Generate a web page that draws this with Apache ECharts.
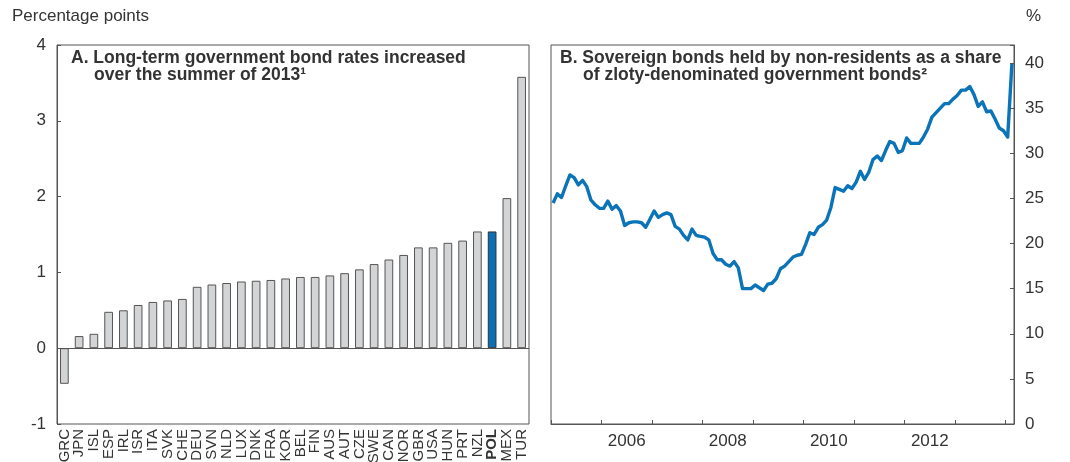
<!DOCTYPE html>
<html>
<head>
<meta charset="utf-8">
<script src="https://cdn.jsdelivr.net/npm/echarts@6/dist/echarts.min.js"></script>
<style>
  html, body { margin: 0; padding: 0; background: #ffffff; }
  #chart { width: 1070px; height: 462px; }
</style>
</head>
<body>
<div id="chart"></div>
<script>
// Panel A: change in long-term government bond rates, percentage points
const countries = ['GRC','JPN','ISL','ESP','IRL','ISR','ITA','SVK','CHE','DEU','SVN','NLD','LUX','DNK','FRA','KOR',
                   'BEL','FIN','AUS','AUT','CZE','SWE','CAN','NOR','GBR','USA','HUN','PRT','NZL','POL','MEX','TUR'];
const rateChange = [-0.47, 0.16, 0.19, 0.48, 0.50, 0.57, 0.61, 0.63, 0.65, 0.81, 0.84, 0.86, 0.88, 0.89, 0.90, 0.92,
                    0.94, 0.94, 0.96, 0.99, 1.04, 1.11, 1.17, 1.23, 1.33, 1.33, 1.39, 1.42, 1.54, 1.54, 1.98, 3.58];
const highlighted = 'POL';

// Panel B: non-resident share of zloty government bonds, %, monthly from January 2005
const shareStartYear = 2005;
const nonResidentShare = [
  24.5, 25.5, 25.1, 26.4, 27.6, 27.3, 26.5, 27.0, 26.3, 24.8, 24.3, 23.9,
  23.9, 24.7, 23.8, 24.2, 23.6, 22.0, 22.3, 22.4, 22.4, 22.3, 21.8, 22.7,
  23.6, 22.9, 23.2, 23.4, 23.2, 21.9, 21.6, 20.9, 20.4, 21.6, 20.9, 20.8,
  20.7, 20.4, 18.9, 18.2, 18.2, 17.7, 17.5, 18.0, 17.3, 15.0, 15.0, 15.0,
  15.4, 15.1, 14.8, 15.5, 15.6, 16.1, 17.2, 17.5, 18.0, 18.5, 18.7, 18.8,
  19.9, 21.2, 21.0, 21.8, 22.1, 22.6, 24.0, 26.2, 26.0, 25.8, 26.4, 26.1,
  26.8, 28.0, 27.1, 27.9, 29.3, 29.7, 29.2, 30.3, 31.3, 31.1, 30.1, 30.3,
  31.7, 31.1, 31.1, 31.1, 31.8, 32.7, 34.0, 34.5, 35.0, 35.5, 35.5, 36.0,
  36.4, 37.0, 37.0, 37.4, 36.5, 35.2, 35.7, 34.6, 34.7, 33.8, 32.8, 32.5,
  31.8, 39.9
];

const FONT = "'Liberation Sans', Arial, Helvetica, sans-serif";
const TEXT = '#333333';
const FRAME = '#555555';

// place each monthly observation mid-month on a decimal-year scale
const shareSeries = nonResidentShare.map((v, i) => [shareStartYear + (i + 0.5) / 12, v]);
const yearMin = shareStartYear;
const yearMax = shareStartYear + nonResidentShare.length / 12;

const barData = rateChange.map((v, i) => ({
  value: v,
  itemStyle: countries[i] === highlighted
    ? { color: '#0b6fb3', borderColor: '#333333', borderWidth: 1 }
    : { color: '#d3d4d5', borderColor: '#555555', borderWidth: 1 }
}));

const chart = echarts.init(document.getElementById('chart'), null, { renderer: 'canvas' });

chart.setOption({
  animation: false,
  backgroundColor: '#ffffff',
  textStyle: { fontFamily: FONT, color: TEXT },
  grid: [
    { left: 57, top: 45, width: 472, height: 379, containLabel: false, outerBoundsMode: 'none',
      show: true, borderColor: FRAME, borderWidth: 1, backgroundColor: 'transparent' },
    { left: 551, top: 45, width: 463, height: 379, containLabel: false, outerBoundsMode: 'none',
      show: true, borderColor: FRAME, borderWidth: 1, backgroundColor: 'transparent' }
  ],
  xAxis: [
    {
      type: 'category', gridIndex: 0, position: 'bottom', data: countries,
      axisLine: { show: false }, axisTick: { show: false },
      axisLabel: {
        rotate: 90, interval: 0, margin: 5, fontSize: 15, color: TEXT, fontFamily: FONT,
        formatter: name => name === highlighted ? '{b|' + name + '}' : name,
        rich: { b: { fontWeight: 'bold', fontSize: 15, color: TEXT, fontFamily: FONT } }
      }
    },
    {
      type: 'value', gridIndex: 1, position: 'bottom', min: yearMin, max: yearMax, interval: 1,
      axisLine: { show: true, lineStyle: { color: FRAME } },
      axisTick: { show: true, inside: true, length: 4, lineStyle: { color: FRAME } },
      axisLabel: { show: false }, splitLine: { show: false }
    },
    {
      type: 'value', gridIndex: 1, position: 'bottom', min: yearMin, max: yearMax, interval: 0.5,
      axisLine: { show: false }, axisTick: { show: false }, splitLine: { show: false },
      axisLabel: {
        fontSize: 17, color: TEXT, fontFamily: FONT, margin: 9,
        formatter: v => {
          const y = Math.floor(v + 1e-9);
          return (Math.abs(v - y - 0.5) < 1e-6 && y % 2 === 0) ? String(y) : '';
        }
      }
    }
  ],
  yAxis: [
    {
      type: 'value', gridIndex: 0, min: -1, max: 4, interval: 1,
      axisLine: { show: true, lineStyle: { color: FRAME } },
      axisTick: { show: true, inside: true, length: 4, lineStyle: { color: FRAME } },
      axisLabel: { fontSize: 17, color: TEXT, fontFamily: FONT, margin: 11 },
      splitLine: { show: false }
    },
    {
      type: 'value', gridIndex: 1, position: 'right', min: 0, max: 42, interval: 5,
      axisLine: { show: true, lineStyle: { color: FRAME } },
      axisTick: { show: true, inside: true, length: 4, lineStyle: { color: FRAME } },
      axisLabel: {
        fontSize: 17, color: TEXT, fontFamily: FONT, margin: 11,
        formatter: v => (v % 5 === 0 ? String(v) : '')
      },
      splitLine: { show: false }
    }
  ],
  series: [
    {
      type: 'bar', xAxisIndex: 0, yAxisIndex: 0, data: barData, barWidth: '59%',
      markLine: {
        silent: true, symbol: 'none', label: { show: false },
        lineStyle: { color: FRAME, width: 1, type: 'solid' },
        data: [{ yAxis: 0 }]
      }
    },
    {
      type: 'line', xAxisIndex: 1, yAxisIndex: 1, data: shareSeries,
      showSymbol: false, symbol: 'none',
      lineStyle: { color: '#0b74b8', width: 3.4, join: 'round' }
    }
  ],
  graphic: [
    { type: 'text', left: 12, top: 8, style: { text: 'Percentage points', font: '17px ' + FONT, fill: TEXT } },
    { type: 'text', left: 1026, top: 8, style: { text: '%', font: '17px ' + FONT, fill: TEXT } },
    { type: 'text', left: 71, top: 49, style: { text: 'A. Long-term government bond rates increased', font: 'bold 17.5px ' + FONT, fill: TEXT } },
    { type: 'text', left: 94, top: 66.5, style: { text: 'over the summer of 2013\u00B9', font: 'bold 17.5px ' + FONT, fill: TEXT } },
    { type: 'text', left: 560, top: 49, style: { text: 'B. Sovereign bonds held by non-residents as a share', font: 'bold 17.5px ' + FONT, fill: TEXT } },
    { type: 'text', left: 583, top: 66.5, style: { text: 'of zloty-denominated government bonds\u00B2', font: 'bold 17.5px ' + FONT, fill: TEXT } }
  ]
});
</script>
</body>
</html>
